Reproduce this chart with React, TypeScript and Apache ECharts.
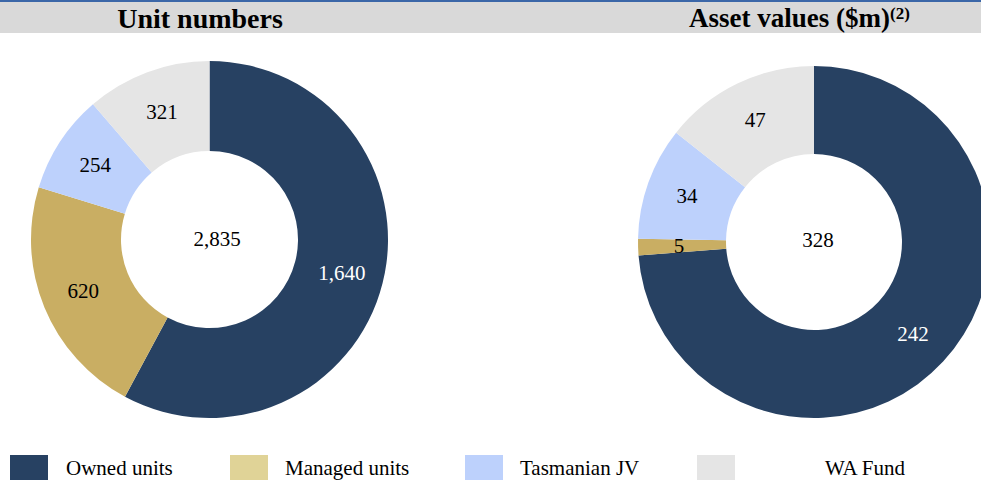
import React, { useEffect, useRef } from "react";
import * as echarts from "echarts";

const categories = ["Owned units", "Managed units", "Tasmanian JV", "WA Fund"];
const unitNumbers = [1640, 620, 254, 321];
const assetValues = [242, 5, 34, 47];
const sliceColors = ["#274162", "#c9ae63", "#bdd1fc", "#e5e5e5"];
const legendColors = ["#274162", "#e0d397", "#bdd1fc", "#e5e5e5"];
const labelColors = ["#ffffff", "#000000", "#000000", "#000000"];
const legendLeft = [10, 230, 465, 697];
const legendTextPad = [13, 12, 12, 85];

const FONT = "'Liberation Serif', 'Times New Roman', serif";

export default function App() {
  const ref = useRef<HTMLDivElement>(null);
  useEffect(() => {
    if (!ref.current) return;
    const chart = echarts.init(ref.current, null, { renderer: "svg" });
    const mk = (vals: number[]) =>
      vals.map((v, i) => ({
        name: categories[i],
        value: v,
        itemStyle: { color: sliceColors[i] },
        label: { color: labelColors[i] },
      }));
    const totalUnits = unitNumbers.reduce((a, b) => a + b, 0);
    const totalAssets = assetValues.reduce((a, b) => a + b, 0);
    const labelCommon = {
      show: true,
      position: "inside" as const,
      fontFamily: FONT,
      fontSize: 21,
      formatter: (p: any) => Number(p.value).toLocaleString("en-US"),
    };
    chart.setOption({
      animation: false,
      backgroundColor: "#ffffff",
      legend: categories.map((c, i) => ({
        left: legendLeft[i],
        top: 455,
        padding: 0,
        icon: "rect",
        itemWidth: 38,
        itemHeight: 25,
        selectedMode: false,
        data: [{ name: c, itemStyle: { color: legendColors[i] } }],
        textStyle: {
          fontFamily: FONT,
          fontSize: 21,
          color: "#000000",
          padding: [0, 0, 0, legendTextPad[i]],
        },
      })),
      graphic: [
        { type: "rect", left: 0, top: 0, shape: { width: 981, height: 2 }, style: { fill: "#3b67a8" }, z: 0 },
        { type: "rect", left: 0, top: 2, shape: { width: 981, height: 31 }, style: { fill: "#d9d9d9" }, z: 0 },
        {
          type: "text",
          x: 200,
          y: 18,
          style: {
            text: "Unit numbers",
            font: `bold 28px ${FONT}`,
            fill: "#000000",
            align: "center",
            verticalAlign: "middle",
          },
          z: 5,
        },
        {
          type: "text",
          x: 689,
          y: 18,
          style: {
            text: "{m|Asset values ($m)}{s|(2)}",
            rich: {
              m: { fontFamily: FONT, fontWeight: "bold", fontSize: 27, color: "#000" },
              s: { fontFamily: FONT, fontWeight: "bold", fontSize: 17, color: "#000", verticalAlign: "top", padding: [0, 0, 10, 0] },
            },
            align: "left",
            verticalAlign: "middle",
          },
          z: 5,
        },
        {
          type: "text",
          x: 217,
          y: 238.5,
          style: {
            text: totalUnits.toLocaleString("en-US"),
            font: `21px ${FONT}`,
            fill: "#000000",
            align: "center",
            verticalAlign: "middle",
          },
          z: 5,
        },
        {
          type: "text",
          x: 818,
          y: 240,
          style: {
            text: totalAssets.toLocaleString("en-US"),
            font: `21px ${FONT}`,
            fill: "#000000",
            align: "center",
            verticalAlign: "middle",
          },
          z: 5,
        },
      ],
      series: [
        {
          type: "pie",
          name: "Unit numbers",
          center: [209.5, 239.5],
          radius: [88.5, 178.5],
          startAngle: 90,
          clockwise: true,
          avoidLabelOverlap: false,
          label: labelCommon,
          labelLine: { show: false },
          itemStyle: { borderWidth: 0 },
          emphasis: { disabled: true },
          data: mk(unitNumbers),
        },
        {
          type: "pie",
          name: "Asset values",
          center: [814, 242],
          radius: [88, 176],
          startAngle: 90,
          clockwise: true,
          avoidLabelOverlap: false,
          label: labelCommon,
          labelLine: { show: false },
          itemStyle: { borderWidth: 0 },
          emphasis: { disabled: true },
          data: mk(assetValues),
        },
      ],
    });
    return () => chart.dispose();
  }, []);
  return (
    <div
      ref={ref}
      style={{ position: "fixed", left: 0, top: 0, width: 981, height: 481 }}
    />
  );
}
